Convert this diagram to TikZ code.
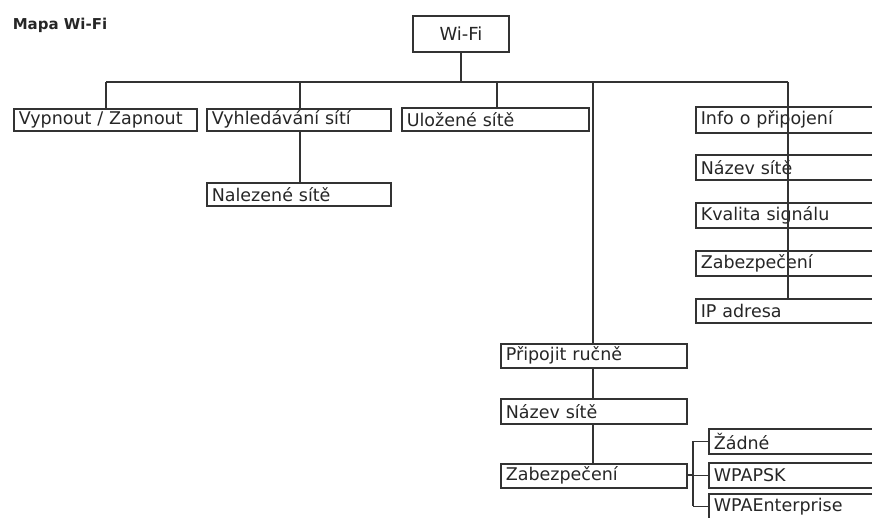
\documentclass[tikz,border=0pt]{standalone}
\usepackage{fontspec}
\setmainfont{DejaVu Sans}
\newfontfamily\titlefont{DejaVu Sans}
\begin{document}
\begin{tikzpicture}[x=1pt,y=-1pt,
  line width=1.6pt, draw=black!80,
  box/.style={draw=black!80, line width=1.6pt, rectangle, anchor=north west, inner xsep=5pt, inner ysep=0pt,
    align=left, font=\fontsize{17.5}{19}\selectfont, text=black!85},
  conn/.style={draw=black!80, line width=1.6pt}]
\useasboundingbox (0,0) rectangle (872,518);
\node[anchor=west, inner sep=0pt, font=\titlefont\bfseries\fontsize{15}{17}\selectfont, text=black!85] (title) at (12,25) {Mapa Wi-Fi};
% root
\node[draw=black!80, line width=1.6pt, minimum width=96pt, minimum height=36pt, inner sep=0pt,
  font=\fontsize{18}{20}\selectfont, text=black!85] (wifi) at (461,34) {Wi-Fi};
% level 1
\node[box, text width=173pt, minimum height=22pt] (vyp) at (13,108) {Vypnout / Zapnout};
\node[box, text width=174pt, minimum height=22pt] (vyh) at (206,108) {Vyhledávání sítí};
\node[box, text width=174pt, minimum height=23pt] (nal) at (206,182) {Nalezené sítě};
\node[box, text width=177pt, minimum height=23pt] (ulo) at (401,107) {Uložené sítě};
% info column
\node[box, text width=180pt, minimum height=26pt] (info) at (695,106) {Info o připojení};
\node[box, text width=180pt, minimum height=25pt] (nazev) at (695,154) {Název sítě};
\node[box, text width=180pt, minimum height=25pt] (kval) at (695,202) {Kvalita signálu};
\node[box, text width=180pt, minimum height=25pt] (zab) at (695,250) {Zabezpečení};
\node[box, text width=180pt, minimum height=24pt] (ip) at (695,298) {IP adresa};
% manual column
\node[box, text width=176pt, minimum height=24pt] (pri) at (500,343) {Připojit ručně};
\node[box, text width=176pt, minimum height=25pt] (naz2) at (500,398) {Název sítě};
\node[box, text width=176pt, minimum height=24pt] (zab2) at (500,463) {Zabezpečení};
\node[box, text width=170pt, minimum height=25pt] (zad) at (708,428) {Žádné};
\node[box, text width=170pt, minimum height=25pt] (psk) at (708,462) {WPAPSK};
\node[box, text width=170pt, minimum height=25pt] (ent) at (708,493) {WPAEnterprise};
% bus
\coordinate (b0) at (461,82);
\coordinate (b1) at (106,82);
\coordinate (b2) at (300,82);
\coordinate (b3) at (497,82);
\coordinate (b4) at (593,82);
\coordinate (b5) at (788,82);
\draw[conn] (wifi.south) -- (b0);
\draw[conn] (b1) -- (b5);
\draw[conn] (b1) -- (b1 |- vyp.north);
\draw[conn] (b2) -- (b2 |- vyh.north);
\draw[conn] (b2 |- vyh.south) -- (b2 |- nal.north);
\draw[conn] (b3) -- (b3 |- ulo.north);
\draw[conn] (b5) -- (b5 |- ip.north);
\draw[conn] (b4) -- (b4 |- pri.north);
\draw[conn] (b4 |- pri.south) -- (b4 |- naz2.north);
\draw[conn] (b4 |- naz2.south) -- (b4 |- zab2.north);
\coordinate (j) at (693,475);
\draw[conn] (zab2.east |- j) -- (j);
\draw[conn] (j |- zad.west) -- (j |- ent.west);
\draw[conn] (j |- zad.west) -- (zad.west);
\draw[conn] (j |- psk.west) -- (psk.west);
\draw[conn] (j |- ent.west) -- (ent.west);
\end{tikzpicture}
\end{document}
